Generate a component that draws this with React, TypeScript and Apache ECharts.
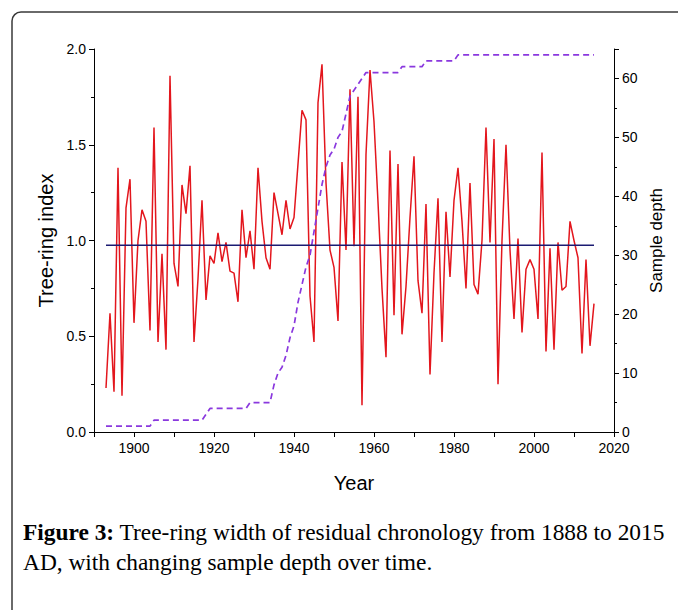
import React, { useEffect, useRef } from "react";
import * as echarts from "echarts";

const START_YEAR = 1893;

// Residual tree-ring index, one value per year from 1893 to 2015
const treeRingIndex = [
  0.23, 0.62, 0.21, 1.38, 0.19, 1.17, 1.32, 0.57, 1.0, 1.16,
  1.1, 0.53, 1.59, 0.47, 0.93, 0.43, 1.86, 0.88, 0.76, 1.29,
  1.14, 1.39, 0.47, 0.8, 1.21, 0.69, 0.92, 0.88, 1.04, 0.89,
  0.99, 0.84, 0.83, 0.68, 1.16, 0.91, 1.05, 0.85, 1.38, 1.1,
  0.91, 0.85, 1.25, 1.14, 1.03, 1.21, 1.06, 1.12, 1.4, 1.68,
  1.63, 0.71, 0.47, 1.72, 1.92, 1.3, 0.95, 0.86, 0.58, 1.41,
  0.95, 1.79, 0.97, 1.75, 0.14, 1.45, 1.89, 1.62, 1.2, 0.75,
  0.39, 1.47, 0.61, 1.4, 0.51, 0.76, 1.12, 1.44, 0.79, 0.62,
  1.19, 0.3, 0.83, 1.22, 0.47, 1.15, 0.81, 1.21, 1.38, 1.1,
  0.75, 1.3, 0.77, 0.72, 1.0, 1.59, 0.99, 1.53, 0.25, 1.0,
  1.5, 0.95, 0.59, 1.01, 0.52, 0.85, 0.9, 0.85, 0.59, 1.46,
  0.42, 0.96, 0.43, 0.99, 0.74, 0.76, 1.1, 1.0, 0.91, 0.41,
  0.9, 0.45, 0.67,
];

// Sample depth (number of series), one value per year from 1893 to 2015
const sampleDepth = [
  1, 1, 1, 1, 1, 1, 1, 1, 1, 1, 1, 1,
  2, 2, 2, 2, 2, 2, 2, 2, 2, 2, 2, 2,
  2, 3, 4,
  4, 4, 4, 4, 4, 4, 4, 4,
  4,
  5, 5, 5, 5, 5, 5,
  8, 10, 11, 13, 16, 18, 22, 25, 28, 30, 34, 38,
  42, 45, 47, 48, 50, 51, 54, 57, 58, 59, 60, 61,
  61, 61, 61, 61, 61, 61, 61, 61,
  62, 62, 62, 62, 62, 62,
  63, 63, 63, 63, 63, 63, 63, 63,
  64, 64, 64, 64, 64, 64, 64, 64, 64, 64, 64, 64, 64, 64, 64, 64, 64, 64,
  64, 64, 64, 64, 64, 64, 64, 64, 64, 64, 64, 64, 64, 64, 64, 64, 64,
];

const meanIndex = 0.975;

const xMin = 1890;
const xMax = 2020;
const leftMax = 2;
const rightMax = 65;

const SANS = "Liberation Sans";
const SERIF = "Liberation Serif";

export default function App() {
  const ref = useRef<HTMLDivElement>(null);

  useEffect(() => {
    if (!ref.current) return;
    const chart = echarts.init(ref.current, null, { renderer: "svg" });
    const years = treeRingIndex.map((_, i) => START_YEAR + i);
    const lastYear = years[years.length - 1];

    chart.setOption({
      animation: false,
      backgroundColor: "#ffffff",
      grid: { left: 94, right: 64, top: 49, bottom: 178 },
      xAxis: {
        type: "value",
        min: xMin,
        max: xMax,
        interval: 10,
        name: "Year",
        nameLocation: "middle",
        nameGap: 41,
        nameTextStyle: { fontFamily: SANS, fontSize: 20, color: "#000" },
        axisLine: { show: true, lineStyle: { color: "#000", width: 1 } },
        axisTick: { show: true, length: 5, lineStyle: { color: "#000" } },
        axisLabel: {
          formatter: (v: number) => (v % 20 === 0 ? String(v) : ""),
          color: "#000",
          fontSize: 14,
          fontFamily: SANS,
          margin: 9,
        },
        splitLine: { show: false },
      },
      yAxis: [
        {
          type: "value",
          position: "left",
          min: 0,
          max: leftMax,
          interval: 0.5,
          name: "Tree-ring index",
          nameLocation: "middle",
          nameGap: 37,
          nameTextStyle: { fontFamily: SANS, fontSize: 20, color: "#000" },
          axisLine: { show: true, lineStyle: { color: "#000", width: 1 } },
          axisTick: { show: true, length: 5, lineStyle: { color: "#000" } },
          minorTick: { show: true, splitNumber: 2, length: 3, lineStyle: { color: "#000" } },
          axisLabel: {
            formatter: (v: number) => v.toFixed(1),
            color: "#000",
            fontSize: 14,
            fontFamily: SANS,
            margin: 8,
          },
          splitLine: { show: false },
        },
        {
          type: "value",
          position: "right",
          min: 0,
          max: rightMax,
          interval: 10,
          alignTicks: false,
          name: "Sample depth",
          nameLocation: "middle",
          nameGap: 33,
          nameTextStyle: { fontFamily: SANS, fontSize: 17, color: "#000" },
          axisLine: { show: true, lineStyle: { color: "#000", width: 1 } },
          axisTick: { show: true, length: 5, lineStyle: { color: "#000" } },
          minorTick: { show: true, splitNumber: 2, length: 3, lineStyle: { color: "#000" } },
          axisLabel: {
            formatter: (v: number) => (v % 10 === 0 ? String(v) : ""),
            color: "#000",
            fontSize: 14,
            fontFamily: SANS,
            margin: 8,
          },
          splitLine: { show: false },
        },
      ],
      series: [
        {
          name: "Tree-ring index",
          type: "line",
          yAxisIndex: 0,
          showSymbol: false,
          data: years.map((y, i) => [y, treeRingIndex[i]]),
          lineStyle: { color: "#e3161d", width: 1.5 },
          z: 2,
        },
        {
          name: "Sample depth",
          type: "line",
          yAxisIndex: 1,
          showSymbol: false,
          data: years.map((y, i) => [y, sampleDepth[i]]),
          lineStyle: { color: "#8a38de", width: 1.7, type: [6, 4] },
          z: 3,
        },
        {
          name: "Mean",
          type: "line",
          yAxisIndex: 0,
          showSymbol: false,
          data: [
            [START_YEAR, meanIndex],
            [lastYear, meanIndex],
          ],
          lineStyle: { color: "#1b1b72", width: 1.6 },
          z: 4,
        },
      ],
      graphic: [
        {
          type: "rect",
          shape: { x: 12, y: 12, width: 740, height: 740, r: 9 },
          style: { fill: "none", stroke: "#3a3a3a", lineWidth: 1.5 },
          silent: true,
        },
        {
          type: "text",
          left: 23,
          top: 520,
          style: {
            text: "{b|Figure 3:} Tree-ring width of residual chronology from 1888 to 2015",
            fontFamily: SERIF,
            fontSize: 23.4,
            fill: "#000",
            rich: {
              b: { fontFamily: SERIF, fontWeight: "bold", fontSize: 23.4, fill: "#000" },
            },
          },
        },
        {
          type: "text",
          left: 23,
          top: 550,
          style: {
            text: "AD, with changing sample depth over time.",
            fontFamily: SERIF,
            fontSize: 23.4,
            fill: "#000",
          },
        },
      ],
    });

    return () => chart.dispose();
  }, []);

  return (
    <div
      ref={ref}
      style={{ position: "fixed", left: 0, top: 0, width: 678, height: 610 }}
    />
  );
}
